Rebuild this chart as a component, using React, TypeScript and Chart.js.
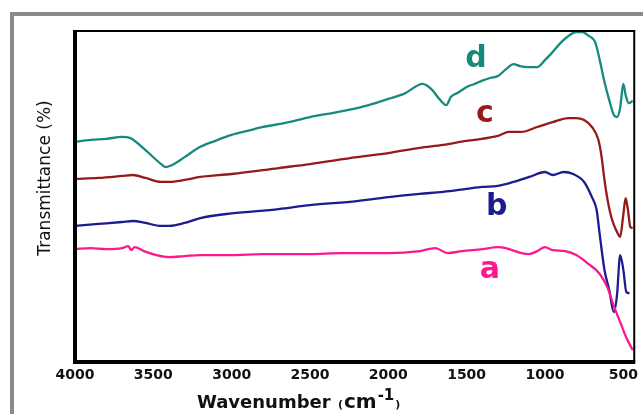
import React, { useEffect, useRef } from "react";
import { Chart, registerables } from "chart.js";

Chart.register(...registerables);

// X tick labels (wavenumber, cm-1)
const X_TICKS = [4000, 3500, 3000, 2500, 2000, 1500, 1000, 500];

// Series a (pink)
const A_WN = [4000, 3900, 3800, 3700, 3660, 3640, 3620, 3560, 3480, 3400, 3300, 3200, 3000, 2800, 2500, 2300, 2000, 1800, 1700, 1620, 1530, 1400, 1300, 1250, 1150, 1100, 1050, 1000, 950, 870, 800, 730, 650, 600, 560, 520, 480, 440];
const A_T = [34.1, 34.4, 34.1, 34.4, 35.0, 33.8, 34.7, 33.5, 32.3, 31.7, 32.0, 32.3, 32.3, 32.6, 32.6, 32.9, 32.9, 33.5, 34.4, 32.9, 33.5, 34.1, 34.7, 34.4, 32.9, 32.6, 33.5, 34.7, 33.8, 33.5, 32.3, 29.9, 26.6, 22.4, 16.9, 12.1, 7.3, 3.6];

// Series b (navy)
const B_WN = [4000, 3850, 3700, 3630, 3550, 3450, 3400, 3300, 3200, 3000, 2700, 2500, 2200, 2000, 1800, 1650, 1500, 1400, 1300, 1200, 1100, 1000, 950, 880, 820, 750, 700, 670, 650, 620, 590, 560, 540, 520, 500, 480, 460];
const B_T = [41.1, 41.7, 42.3, 42.6, 42.0, 41.1, 41.1, 42.0, 43.5, 44.9, 46.2, 47.4, 48.6, 49.8, 50.8, 51.4, 52.3, 52.9, 53.2, 54.4, 55.9, 57.4, 56.5, 57.4, 56.8, 54.4, 49.8, 45.9, 38.4, 27.8, 21.8, 15.1, 20.2, 32.3, 28.0, 21.1, 20.8];

// Series c (dark red)
const C_WN = [4000, 3850, 3700, 3630, 3550, 3450, 3400, 3300, 3200, 3000, 2700, 2500, 2200, 2000, 1800, 1650, 1500, 1450, 1300, 1230, 1150, 1050, 950, 850, 800, 750, 700, 660, 640, 620, 600, 580, 560, 540, 520, 500, 485, 470, 455, 440];
const C_T = [55.3, 55.6, 56.2, 56.5, 55.6, 54.4, 54.4, 55.0, 55.9, 56.8, 58.6, 59.8, 61.9, 63.1, 64.7, 65.6, 66.8, 67.1, 68.3, 69.5, 69.5, 71.0, 72.5, 73.7, 73.7, 73.1, 71.0, 67.3, 62.5, 55.0, 48.9, 44.4, 41.4, 39.3, 37.8, 44.4, 49.5, 45.9, 40.8, 40.5];

// Series d (teal)
const D_WN = [4000, 3900, 3800, 3700, 3650, 3550, 3450, 3420, 3380, 3300, 3200, 3100, 3000, 2900, 2800, 2650, 2500, 2350, 2200, 2100, 2000, 1900, 1780, 1720, 1680, 1630, 1600, 1550, 1500, 1450, 1400, 1350, 1300, 1250, 1200, 1160, 1100, 1050, 1000, 950, 900, 850, 800, 760, 720, 680, 650, 620, 590, 560, 540, 520, 500, 485, 465, 440];
const D_T = [66.5, 67.1, 67.4, 68.0, 67.7, 64.0, 59.8, 58.9, 59.5, 61.9, 65.0, 66.9, 68.6, 69.8, 71.0, 72.3, 74.0, 75.3, 76.7, 78.0, 79.5, 81.0, 84.0, 82.2, 79.8, 77.6, 80.1, 81.5, 83.1, 84.0, 85.0, 85.8, 86.4, 88.4, 90.0, 89.4, 89.1, 89.1, 91.2, 93.7, 96.4, 98.5, 99.7, 99.7, 98.5, 96.7, 91.2, 84.6, 79.2, 74.6, 74.0, 76.7, 84.0, 80.7, 78.2, 78.9];

const SERIES_NAMES = ["a", "b", "c", "d"];
const SERIES_COLORS = ["#ff178f", "#1c1c8e", "#961a1a", "#178a7e"];
// label anchor (wavenumber, transmittance at text baseline)
const LABEL_WN = [1351, 1307, 1383, 1440];
const LABEL_T = [25.4, 44.4, 72.5, 89.1];

const toPoints = (xs: number[], ys: number[]) => xs.map((x, i) => ({ x, y: ys[i] }));

const decorPlugin = {
  id: "decor",
  beforeDraw(chart: any) {
    const ctx = chart.ctx;
    ctx.save();
    ctx.fillStyle = "#ffffff";
    ctx.fillRect(0, 0, chart.width, chart.height);
    ctx.strokeStyle = "#8a8a8a";
    ctx.lineWidth = 4;
    ctx.beginPath();
    ctx.moveTo(12, chart.height);
    ctx.lineTo(12, 14);
    ctx.lineTo(chart.width, 14);
    ctx.stroke();
    ctx.restore();
  },
  afterDatasetsDraw(chart: any) {
    const ctx = chart.ctx;
    const { left, right, top, bottom } = chart.chartArea;
    ctx.save();
    ctx.strokeStyle = "#000000";
    ctx.lineWidth = 2;
    ctx.beginPath();
    ctx.moveTo(left, top);
    ctx.lineTo(right, top);
    ctx.lineTo(right, bottom);
    ctx.stroke();
    ctx.lineWidth = 4;
    ctx.beginPath();
    ctx.moveTo(left, top - 1);
    ctx.lineTo(left, bottom);
    ctx.lineTo(right + 1, bottom);
    ctx.stroke();

    // series labels
    const xs = chart.scales.x;
    const ys = chart.scales.y;
    ctx.font = "bold 30px 'DejaVu Sans'";
    ctx.textAlign = "center";
    ctx.textBaseline = "alphabetic";
    SERIES_NAMES.forEach((name, i) => {
      ctx.fillStyle = SERIES_COLORS[i];
      ctx.fillText(name, xs.getPixelForValue(LABEL_WN[i]), ys.getPixelForValue(LABEL_T[i]));
    });

    // y title
    ctx.fillStyle = "#111111";
    ctx.save();
    ctx.translate(46, 178);
    ctx.rotate(-Math.PI / 2);
    ctx.font = "17px 'DejaVu Sans'";
    ctx.textAlign = "center";
    ctx.textBaseline = "middle";
    ctx.fillText("Transmittance (%)", 0, 0);
    ctx.restore();

    // x title
    ctx.textAlign = "left";
    ctx.textBaseline = "alphabetic";
    let x = 197;
    const base = 408;
    const parts: [string, string, number][] = [
      ["Wavenumber ", "bold 18px 'DejaVu Sans'", 0],
      ["(", "bold 11px 'DejaVu Sans'", 0],
      ["cm", "bold 20px 'DejaVu Sans'", 0],
      ["-1", "bold 15px 'DejaVu Sans'", -8],
      [")", "bold 11px 'DejaVu Sans'", 0],
    ];
    parts.forEach(([t, f, dy]) => {
      ctx.font = f;
      ctx.fillText(t, x, base + dy);
      x += ctx.measureText(t).width + 1;
    });
    ctx.restore();
  },
};

export default function App() {
  const ref = useRef<HTMLCanvasElement | null>(null);
  useEffect(() => {
    if (!ref.current) return;
    const sets = [
      toPoints(A_WN, A_T),
      toPoints(B_WN, B_T),
      toPoints(C_WN, C_T),
      toPoints(D_WN, D_T),
    ];
    const chart = new Chart(ref.current, {
      type: "line",
      data: {
        datasets: sets.map((d, i) => ({
          label: SERIES_NAMES[i],
          data: d,
          borderColor: SERIES_COLORS[i],
          backgroundColor: SERIES_COLORS[i],
          borderWidth: 2.3,
          pointRadius: 0,
          cubicInterpolationMode: "monotone" as const,
          fill: false,
        })),
      },
      options: {
        animation: false,
        responsive: false,
        devicePixelRatio: 1,
        layout: { padding: { left: 75, right: 6, top: 31, bottom: 0 } },
        plugins: { legend: { display: false }, tooltip: { enabled: false } },
        scales: {
          x: {
            type: "linear",
            reverse: true,
            min: 430,
            max: 4000,
            afterBuildTicks: (scale: any) => {
              scale.ticks = X_TICKS.map((v) => ({ value: v }));
            },
            afterFit: (scale: any) => {
              scale.height = 52;
            },
            grid: { display: false, drawTicks: false },
            border: { display: false },
            ticks: {
              color: "#111111",
              font: { family: "'DejaVu Sans'", size: 14, weight: "bold" },
              padding: 5,
              maxRotation: 0,
              autoSkip: false,
              callback: (v: any) => String(v),
            },
          },
          y: { display: false, min: 0, max: 100 },
        },
      },
      plugins: [decorPlugin],
    } as any);
    return () => chart.destroy();
  }, []);
  return (
    <div style={{ position: "absolute", left: 0, top: 0, width: 643, height: 414 }}>
      <canvas ref={ref} width={643} height={414} />
    </div>
  );
}
